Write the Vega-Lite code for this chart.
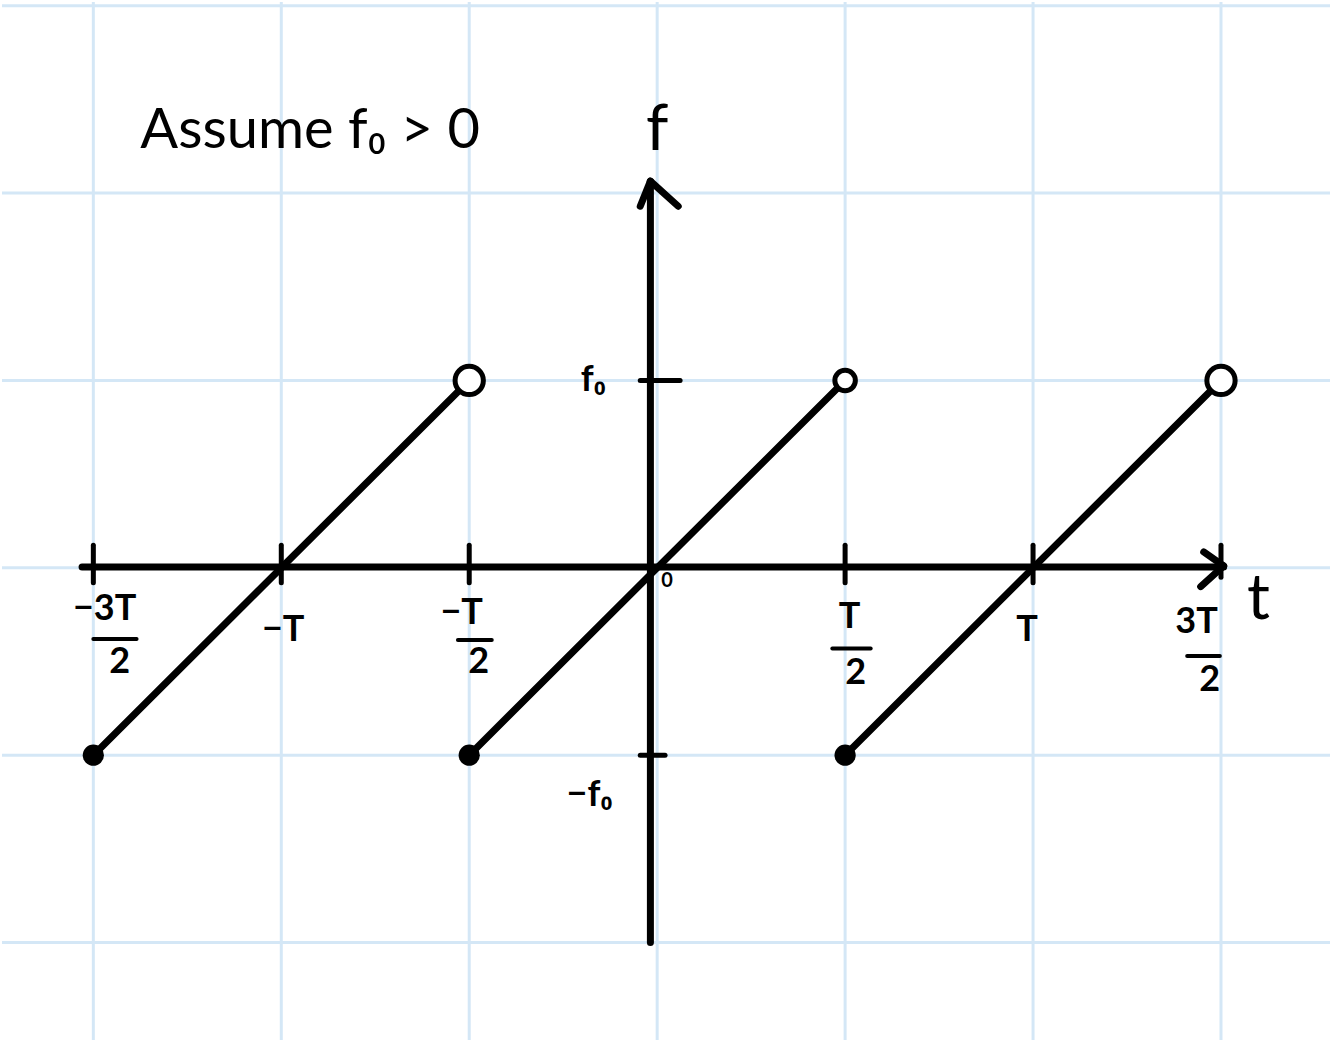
{
  "$schema": "https://vega.github.io/schema/vega-lite/v6.json",
  "width": 1332,
  "height": 1042,
  "autosize": {"type": "fit", "contains": "padding"},
  "padding": 0,
  "background": "white",
  "config": {"view": {"stroke": null}},
  "datasets": {
    "gridV": [{"t": -1.5}, {"t": -1}, {"t": -0.5}, {"t": 0}, {"t": 0.5}, {"t": 1}, {"t": 1.5}],
    "gridH": [{"f": 3}, {"f": 2}, {"f": 1}, {"f": 0}, {"f": -1}, {"f": -2}],
    "saw": [
      {"t1": -1.5, "f1": -1, "t2": -0.5, "f2": 1},
      {"t1": -0.5, "f1": -1, "t2": 0.5, "f2": 1},
      {"t1": 0.5, "f1": -1, "t2": 1.5, "f2": 1}
    ],
    "axes": [
      {"t1": -1.53, "f1": 0.005, "t2": 1.507, "f2": 0.005},
      {"t1": -0.018, "f1": -2.0, "t2": -0.018, "f2": 2.06},
      {"t1": -0.045, "f1": 1.93, "t2": -0.018, "f2": 2.064},
      {"t1": -0.018, "f1": 2.064, "t2": 0.056, "f2": 1.93},
      {"t1": 1.454, "f1": 0.085, "t2": 1.507, "f2": 0.01},
      {"t1": 1.507, "f1": 0.01, "t2": 1.446, "f2": -0.1}
    ],
    "ticks": [
      {"t1": -1.5, "f1": 0.12, "t2": -1.5, "f2": -0.08},
      {"t1": -1.0, "f1": 0.12, "t2": -1.0, "f2": -0.08},
      {"t1": -0.5, "f1": 0.12, "t2": -0.5, "f2": -0.08},
      {"t1": 0.5, "f1": 0.12, "t2": 0.5, "f2": -0.08},
      {"t1": 1.0, "f1": 0.12, "t2": 1.0, "f2": -0.08},
      {"t1": 1.5, "f1": 0.12, "t2": 1.5, "f2": -0.05},
      {"t1": -0.045, "f1": 1.0, "t2": 0.061, "f2": 1.0},
      {"t1": -0.045, "f1": -1.0, "t2": 0.021, "f2": -1.0}
    ],
    "bars": [
      {"t1": -1.5, "f1": -0.38, "t2": -1.385, "f2": -0.38},
      {"t1": -0.53, "f1": -0.385, "t2": -0.44, "f2": -0.385},
      {"t1": 0.466, "f1": -0.43, "t2": 0.568, "f2": -0.43},
      {"t1": 1.41, "f1": -0.47, "t2": 1.497, "f2": -0.47}
    ],
    "openBig": [{"t": -0.5, "f": 1}, {"t": 1.5, "f": 1}],
    "openSmall": [{"t": 0.5, "f": 1}],
    "closed": [{"t": -1.5, "f": -1}, {"t": -0.5, "f": -1}, {"t": 0.5, "f": -1}],
    "labels": [
      {"label": "−3T", "t": -1.47, "f": -0.22},
      {"label": "2", "t": -1.43, "f": -0.5},
      {"label": "−T", "t": -0.995, "f": -0.33},
      {"label": "−T", "t": -0.52, "f": -0.24},
      {"label": "2", "t": -0.475, "f": -0.5},
      {"label": "T", "t": 0.512, "f": -0.26},
      {"label": "2", "t": 0.528, "f": -0.56},
      {"label": "T", "t": 0.984, "f": -0.33},
      {"label": "3T", "t": 1.435, "f": -0.29},
      {"label": "2", "t": 1.47, "f": -0.6},
      {"label": "f₀", "t": -0.17, "f": 1.0},
      {"label": "−f₀", "t": -0.18, "f": -1.21}
    ],
    "big": [
      {"label": "f", "t": 0.0, "f": 2.33},
      {"label": "t", "t": 1.6, "f": -0.17}
    ],
    "zero": [{"label": "0", "t": 0.026, "f": -0.07}],
    "title": [{"label": "Assume  f₀ > 0", "t": -1.375, "f": 2.33}]
  },
  "encoding": {
    "x": {"type": "quantitative", "scale": {"domain": [-1.743, 1.79], "nice": false, "zero": false}, "axis": null},
    "y": {"type": "quantitative", "scale": {"domain": [-2.52, 3.02], "nice": false, "zero": false}, "axis": null}
  },
  "layer": [
    {"data": {"name": "gridV"}, "mark": {"type": "rule", "color": "#d4e7f6", "strokeWidth": 3}, "encoding": {"x": {"field": "t", "type": "quantitative"}}},
    {"data": {"name": "gridH"}, "mark": {"type": "rule", "color": "#d4e7f6", "strokeWidth": 3}, "encoding": {"y": {"field": "f", "type": "quantitative"}}},
    {"data": {"name": "axes"}, "mark": {"type": "rule", "color": "black", "strokeWidth": 7, "strokeCap": "round"}, "encoding": {"x": {"field": "t1", "type": "quantitative"}, "y": {"field": "f1", "type": "quantitative"}, "x2": {"field": "t2"}, "y2": {"field": "f2"}}},
    {"data": {"name": "ticks"}, "mark": {"type": "rule", "color": "black", "strokeWidth": 5, "strokeCap": "round"}, "encoding": {"x": {"field": "t1", "type": "quantitative"}, "y": {"field": "f1", "type": "quantitative"}, "x2": {"field": "t2"}, "y2": {"field": "f2"}}},
    {"data": {"name": "saw"}, "mark": {"type": "rule", "color": "black", "strokeWidth": 7, "strokeCap": "round"}, "encoding": {"x": {"field": "t1", "type": "quantitative"}, "y": {"field": "f1", "type": "quantitative"}, "x2": {"field": "t2"}, "y2": {"field": "f2"}}},
    {"data": {"name": "bars"}, "mark": {"type": "rule", "color": "black", "strokeWidth": 4, "strokeCap": "round"}, "encoding": {"x": {"field": "t1", "type": "quantitative"}, "y": {"field": "f1", "type": "quantitative"}, "x2": {"field": "t2"}, "y2": {"field": "f2"}}},
    {"data": {"name": "openBig"}, "mark": {"type": "point", "shape": "circle", "filled": true, "fill": "white", "stroke": "black", "strokeWidth": 5, "size": 800, "opacity": 1}, "encoding": {"x": {"field": "t", "type": "quantitative"}, "y": {"field": "f", "type": "quantitative"}}},
    {"data": {"name": "openSmall"}, "mark": {"type": "point", "shape": "circle", "filled": true, "fill": "white", "stroke": "black", "strokeWidth": 5, "size": 420, "opacity": 1}, "encoding": {"x": {"field": "t", "type": "quantitative"}, "y": {"field": "f", "type": "quantitative"}}},
    {"data": {"name": "closed"}, "mark": {"type": "point", "shape": "circle", "filled": true, "color": "black", "size": 450, "opacity": 1}, "encoding": {"x": {"field": "t", "type": "quantitative"}, "y": {"field": "f", "type": "quantitative"}}},
    {"data": {"name": "labels"}, "mark": {"type": "text", "font": "Lato", "fontSize": 36, "fontWeight": "bold", "color": "black", "align": "center", "baseline": "middle"}, "encoding": {"x": {"field": "t", "type": "quantitative"}, "y": {"field": "f", "type": "quantitative"}, "text": {"field": "label"}}},
    {"data": {"name": "big"}, "mark": {"type": "text", "font": "Lato", "fontSize": 64, "color": "black", "align": "center", "baseline": "middle"}, "encoding": {"x": {"field": "t", "type": "quantitative"}, "y": {"field": "f", "type": "quantitative"}, "text": {"field": "label"}}},
    {"data": {"name": "zero"}, "mark": {"type": "text", "font": "Lato", "fontSize": 20, "fontWeight": "bold", "color": "black", "align": "center", "baseline": "middle"}, "encoding": {"x": {"field": "t", "type": "quantitative"}, "y": {"field": "f", "type": "quantitative"}, "text": {"field": "label"}}},
    {"data": {"name": "title"}, "mark": {"type": "text", "font": "Lato", "fontSize": 56, "color": "black", "align": "left", "baseline": "middle"}, "encoding": {"x": {"field": "t", "type": "quantitative"}, "y": {"field": "f", "type": "quantitative"}, "text": {"field": "label"}}}
  ]
}
